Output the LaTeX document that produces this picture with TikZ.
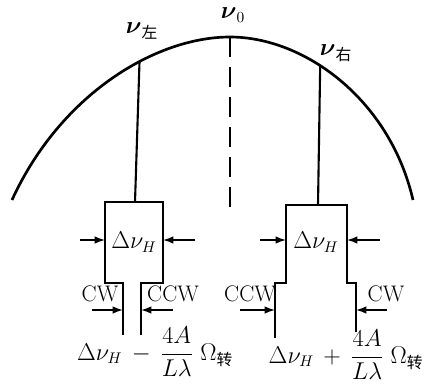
\documentclass[tikz,border=0pt]{standalone}
\usepackage{amsmath}
\usepackage{fontspec}
\newfontfamily\cjk{Noto Sans CJK SC}
\usepackage{tikz}
\usetikzlibrary{arrows.meta,calc}
\newcommand{\zh}[1]{\text{\cjk #1}}
\tikzset{
    curve/.style={line width=1.9pt},
    wall/.style={line width=1.5pt},
    axisdash/.style={line width=1.5pt, dash pattern=on 5mm off 2.5mm},
    push/.style={-{Latex[length=2.6mm,width=1.9mm]}, line width=1.1pt},
    lbl/.style={font=\fontsize{16}{18}\selectfont, inner sep=1pt}
}

\begin{document}
\begin{tikzpicture}[x=0.025cm,y=-0.025cm]
\useasboundingbox (0,0) rectangle (428,383);
% gain curve
\coordinate (c0) at (230,37);
\draw[curve] (12,200) .. controls (60,95) and (155,37) .. coordinate[pos=0.62] (cL) (c0)
    .. controls (305,37) and (390,100) .. coordinate[pos=0.4] (cR) (413,200);
\node[lbl] (nu0) at (233,15) {$\boldsymbol{\nu}_0$};
\node[lbl] (nuL) at (142,31) {$\boldsymbol{\nu}_{\zh{左}}$};
\node[lbl] (nuR) at (336,53) {$\boldsymbol{\nu}_{\zh{右}}$};
\coordinate (d0) at (230,207);
\draw[axisdash] (c0) -- (d0);
% left mode
\coordinate (tl) at (135,202);
\draw[wall] (cL) -- (tl);
\draw[wall] (123,335) -- (123,283) -- (105,283) -- (105,202) -- (163,202) -- (163,283) -- (141,283) -- (141,335);
\node[lbl] (dl) at (134,242) {$\Delta\nu_H$};
% right mode
\coordinate (tr) at (318,205);
\draw[wall] (cR) -- (tr);
\draw[wall] (275,338) -- (275,283) -- (286,283) -- (286,205) -- (347,205) -- (347,283) -- (356,283) -- (356,332);
\node[lbl] (dr) at (316,242) {$\Delta\nu_H$};
% push arrows
\foreach \s/\e/\y in {80/105/240, 195/163/240, 260/286/240, 380/347/240, 92/123/310, 173/141/310, 240/275/310, 387/356/310}
    \draw[push] (\s,\y) -- (\e,\y);
\node[lbl] (cwl) at (100,294) {CW};
\node[lbl] (ccwl) at (173,294) {CCW};
\node[lbl] (ccwr) at (250,294) {CCW};
\node[lbl] (cwr) at (386,294) {CW};
% beat frequencies
\node[lbl] (fl) at (155,352) {$\Delta\nu_H\,-\,\dfrac{4A}{L\lambda}\;\Omega_{\zh{转}}$};
\node[lbl] (fr) at (346,355) {$\Delta\nu_H\,+\,\dfrac{4A}{L\lambda}\;\Omega_{\zh{转}}$};
\end{tikzpicture}
\end{document}
